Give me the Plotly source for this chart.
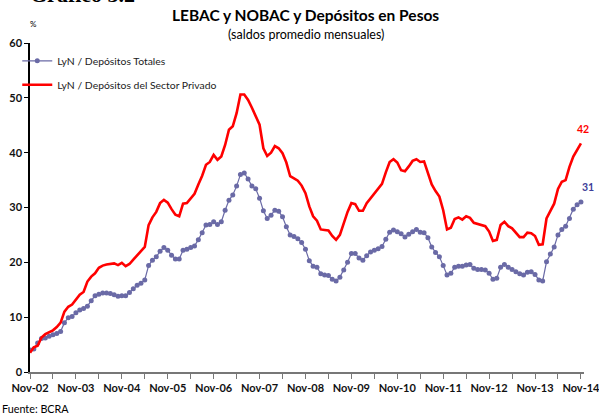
import plotly.graph_objects as go

tick_labels = ["Nov-02", "Nov-03", "Nov-04", "Nov-05", "Nov-06", "Nov-07", "Nov-08",
               "Nov-09", "Nov-10", "Nov-11", "Nov-12", "Nov-13", "Nov-14"]

# LyN / Depósitos Totales (monthly, Nov-02 .. Nov-14)
totales = [4.0, 4.2, 5.3, 6.1, 6.2, 6.5, 6.8, 7.0, 7.4, 9.0, 9.9, 10.1, 10.8, 11.3, 11.6, 12.0,
           13.0, 13.9, 14.2, 14.4, 14.4, 14.3, 14.1, 13.8, 13.9, 13.9, 14.5, 15.2, 15.8, 16.2,
           16.8, 19.4, 20.4, 21.0, 22.0, 22.7, 22.2, 21.3, 20.6, 20.6, 22.2, 22.4, 22.7, 23.0,
           24.1, 25.4, 26.8, 26.9, 27.4, 26.9, 27.4, 29.5, 31.3, 32.3, 33.9, 36.0, 36.3, 35.2,
           33.9, 33.4, 31.7, 29.4, 28.0, 28.6, 29.5, 29.3, 28.3, 26.5, 25.0, 24.7, 24.3, 23.6,
           22.4, 20.3, 19.3, 19.1, 17.9, 17.7, 17.6, 16.9, 16.6, 17.3, 18.6, 20.0, 21.6, 21.6,
           20.8, 20.4, 21.2, 21.9, 22.2, 22.5, 22.9, 24.2, 25.5, 25.9, 25.6, 25.2, 24.6, 25.1,
           25.6, 26.0, 25.5, 25.4, 24.5, 22.8, 21.8, 21.0, 19.4, 17.7, 18.0, 19.1, 19.3, 19.3,
           19.5, 19.6, 18.9, 18.7, 18.7, 18.6, 18.0, 16.9, 17.1, 19.1, 19.6, 19.1, 18.7, 18.3,
           17.9, 17.7, 18.2, 18.3, 17.8, 16.8, 16.6, 20.1, 21.5, 22.8, 25.0, 26.0, 26.6, 28.0,
           29.7, 30.5, 31.0]

# LyN / Depósitos del Sector Privado
privado = [3.5, 4.5, 4.8, 6.3, 6.9, 7.2, 7.6, 8.2, 9.0, 11.0, 11.9, 12.3, 13.3, 14.1, 14.6, 16.5,
           17.4, 18.0, 19.0, 19.4, 19.6, 19.7, 19.8, 19.5, 19.9, 19.3, 19.7, 20.5, 21.3, 21.9,
           22.8, 26.8, 28.2, 29.2, 30.8, 31.4, 30.9, 29.7, 28.7, 28.4, 30.7, 30.8, 31.6, 32.5,
           34.2, 35.8, 37.8, 38.3, 39.6, 38.7, 39.3, 41.4, 44.2, 44.8, 47.2, 50.6, 50.6, 49.6,
           48.2, 46.8, 45.1, 40.8, 39.4, 40.0, 41.2, 40.8, 39.9, 38.2, 35.7, 35.3, 34.9, 34.0,
           32.6, 30.2, 28.4, 27.6, 26.0, 25.9, 25.8, 24.8, 24.1, 25.0, 27.2, 29.2, 30.8, 30.6,
           29.4, 29.4, 30.8, 31.7, 32.7, 33.5, 34.3, 36.4, 38.3, 38.8, 38.2, 36.8, 36.6, 37.5,
           38.5, 38.8, 38.3, 38.4, 36.3, 34.2, 33.0, 32.0, 29.5, 26.0, 26.3, 27.9, 28.2, 27.8,
           28.4, 28.1, 27.2, 27.0, 26.9, 26.6, 25.6, 23.9, 24.1, 26.8, 27.4, 26.6, 26.2, 25.4,
           24.6, 24.6, 25.4, 25.3, 24.8, 23.2, 23.3, 28.0, 29.3, 30.7, 33.4, 34.7, 35.0, 37.4,
           39.3, 40.4, 41.7]

x = list(range(len(totales)))

FONT = "Lato"
BLUE = "#6a6aa6"
RED = "#ff0000"

fig = go.Figure()
fig.add_trace(go.Scatter(
    x=x, y=totales, mode="lines+markers", name="LyN / Depósitos Totales",
    line=dict(color=BLUE, width=1.2), marker=dict(color=BLUE, size=5),
    legendgroup="a"))
fig.add_trace(go.Scatter(
    x=x, y=privado, mode="lines", name="LyN / Depósitos del Sector Privado",
    line=dict(color=RED, width=2.6), legendgroup="b"))

tickvals = list(range(0, len(x), 6))
ticktext = [tick_labels[i // 12] if i % 12 == 0 else "" for i in tickvals]

fig.update_layout(
    width=599, height=416,
    margin=dict(l=30, r=15, t=43, b=44),
    paper_bgcolor="white", plot_bgcolor="white",
    font=dict(family=FONT, color="#111"),
    showlegend=True,
    legend=dict(x=-0.023, y=0.99, xanchor="left", yanchor="top",
                font=dict(size=10.4, color="#222", family=FONT),
                bgcolor="rgba(0,0,0,0)", itemwidth=30,
                traceorder="grouped", tracegroupgap=5),
    xaxis=dict(range=[0, 144.8], tickvals=tickvals, ticktext=ticktext,
               ticks="outside", ticklen=5, tickcolor="#777", tickwidth=1.3,
               showline=True, linecolor="#777", linewidth=2,
               showgrid=False, zeroline=False, ticklabeloverflow="allow",
               automargin=False,
               tickfont=dict(family=FONT, size=11, color="#111", weight="bold")),
    yaxis=dict(range=[0, 60], tickvals=[0, 10, 20, 30, 40, 50, 60],
               ticks="outside", ticklen=4, tickcolor="#000", tickwidth=1.3,
               showline=True, linecolor="#000", linewidth=1.5,
               showgrid=False, zeroline=False, automargin=False,
               tickfont=dict(family=FONT, size=11, color="#111", weight="bold")),
)

annotations = [
    dict(text="<b>Gráfico 3.2</b>", xref="paper", yref="paper", x=-0.003, y=1.103,
         xanchor="left", yanchor="bottom", showarrow=False,
         font=dict(family="Liberation Serif", size=22, color="#000")),
    dict(text="<b>LEBAC y NOBAC y Depósitos en Pesos</b>", xref="paper", yref="paper",
         x=(305 - 30) / 554, y=(371.7 - 15) / 328.4, xanchor="center", yanchor="middle",
         showarrow=False, font=dict(family=FONT, size=15.5, color="#000")),
    dict(text="(saldos promedio mensuales)", xref="paper", yref="paper",
         x=(306 - 30) / 554, y=(371.7 - 35) / 328.4, xanchor="center", yanchor="middle",
         showarrow=False, font=dict(family=FONT, size=12.5, color="#000")),
    dict(text="%", xref="paper", yref="paper", x=(33 - 30) / 554, y=(371.7 - 24) / 328.4,
         xanchor="center", yanchor="middle", showarrow=False,
         font=dict(family=FONT, size=8, color="#000")),
    dict(text="Fuente: BCRA", xref="paper", yref="paper", x=(0 - 30) / 554,
         y=(371.7 - 408) / 328.4, xanchor="left", yanchor="middle", showarrow=False,
         font=dict(family=FONT, size=10.8, color="#000")),
    dict(text="<b>%d</b>" % round(privado[-1]), x=x[-1], y=privado[-1], xanchor="center",
         yanchor="bottom", yshift=6, xshift=2, showarrow=False,
         font=dict(family=FONT, size=10.5, color=RED)),
    dict(text="<b>%d</b>" % round(totales[-1]), x=x[-1], y=totales[-1], xanchor="center",
         yanchor="bottom", yshift=7, xshift=7, showarrow=False,
         font=dict(family=FONT, size=10.5, color="#3d3d99")),
]
fig.update_layout(annotations=annotations)

fig.write_html("out.html", config={"displayModeBar": False},
               post_script="document.body.style.margin='0px';document.body.style.padding='0px';")
